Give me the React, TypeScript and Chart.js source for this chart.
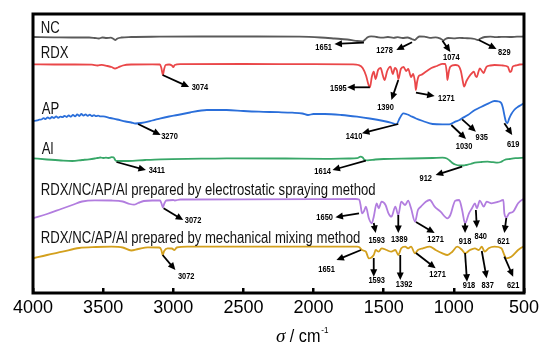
import React, { useEffect, useRef } from "react";
import { Chart, registerables } from "chart.js";

Chart.register(...registerables);

type P = [number, number];

// Wavenumber (cm^-1) vs. transmittance (arbitrary units, curves stacked with offsets)
const NC: P[] = [
  [4000, 258], [3850, 257.7], [3700, 257.5], [3600, 257.5], [3560, 257], [3531, 256.5], [3505, 257.5],
  [3475, 257], [3445, 257.3], [3425, 256], [3412, 255], [3398, 256.5], [3370, 257.5], [3300, 258],
  [3100, 258.3], [2800, 258.5], [2400, 258.5], [2100, 258.3], [1950, 257.5], [1850, 256.5], [1760, 255.5],
  [1700, 254.2], [1651, 253.5], [1632, 255.5], [1615, 257.8], [1590, 258.7], [1550, 258], [1510, 257.3],
  [1470, 258], [1430, 257.2], [1400, 257.8], [1365, 257], [1330, 257.5], [1300, 256], [1278, 255],
  [1262, 257], [1245, 258.5], [1210, 258.3], [1170, 257.2], [1130, 257.7], [1100, 256.7], [1085, 255.5],
  [1074, 254.5], [1060, 256], [1040, 257], [1000, 256.7], [960, 257.2], [920, 256.8], [880, 256.7],
  [850, 256], [829, 255], [810, 256.5], [780, 258], [740, 258.3], [700, 257.8], [660, 258.2], [600, 258],
  [550, 258.3], [500, 258.5],
];

const RDX: P[] = [
  [4000, 230.7], [3850, 230.5], [3700, 230.5], [3580, 230.3], [3540, 229.5], [3510, 230.2], [3470, 229],
  [3440, 228], [3415, 226.5], [3395, 227.5], [3360, 229.5], [3300, 230.5], [3150, 230.7], [3095, 230.5],
  [3085, 227], [3074, 220], [3065, 226], [3055, 230], [3030, 230.5], [3010, 229.5], [3000, 228],
  [2990, 230], [2950, 230.8], [2500, 231], [2000, 230.8], [1720, 230.7], [1680, 230], [1650, 227],
  [1625, 219], [1610, 211], [1598, 207.7], [1585, 218], [1571, 223.3], [1558, 216], [1540, 225],
  [1522, 227], [1505, 219], [1494, 215], [1475, 224], [1452, 228.3], [1435, 221], [1420, 227],
  [1405, 224], [1395, 216], [1378, 226], [1358, 228], [1340, 224], [1325, 226], [1305, 218], [1290, 221],
  [1276, 212], [1271, 205], [1262, 213], [1250, 219], [1235, 220], [1200, 223.3], [1160, 227],
  [1120, 229], [1080, 231.2], [1062, 231], [1050, 222], [1046, 215], [1035, 224], [1025, 228.3],
  [990, 230], [970, 229.5], [950, 224], [935, 213], [927, 208.3], [910, 214], [892, 218.3], [870, 222],
  [857, 223.3], [845, 219], [836, 218], [825, 223], [815, 226.7], [800, 224], [787, 222], [775, 226],
  [766, 228.3], [740, 229.5], [710, 230], [650, 229.5], [615, 228.3], [600, 223], [590, 224],
  [580, 228.5], [560, 229.5], [530, 230.5], [500, 230.7],
];

const AP: P[] = [
  [4000, 174], [3970, 174.6], [3955, 175.3], [3940, 175.5], [3925, 176.8], [3910, 176], [3895, 177.6],
  [3880, 176.4], [3865, 178], [3850, 177], [3835, 178.6], [3820, 177.2], [3805, 178.4], [3790, 177.8],
  [3775, 179.2], [3760, 178], [3745, 179.6], [3730, 178.3], [3715, 180.2], [3700, 178.6], [3685, 180.6],
  [3670, 179], [3655, 181], [3640, 179.4], [3625, 180.6], [3610, 179.2], [3595, 180.3], [3580, 179],
  [3565, 179.8], [3550, 178.8], [3535, 179.4], [3520, 178.6], [3500, 178.6],
  [3450, 177], [3400, 175.5], [3340, 173.5], [3300, 172.5], [3270, 171.5], [3230, 172], [3150, 174.5],
  [3090, 176.7], [3030, 178.5], [2970, 180], [2880, 182.5], [2800, 184.5], [2760, 185], [2620, 185],
  [2500, 184], [2390, 183.3], [2250, 182.8], [2152, 182.3], [2080, 181.5], [2040, 180], [2000, 181],
  [1920, 181], [1800, 180], [1690, 178.3], [1600, 176.5], [1501, 174], [1440, 172], [1410, 170.7],
  [1385, 177], [1361, 181.7], [1330, 180.5], [1312, 179.3], [1270, 176.5], [1221, 174], [1151, 171],
  [1081, 170.7], [1032, 170.7], [990, 173.3], [960, 175], [941, 176.7], [900, 180], [850, 185],
  [800, 188.5], [752, 191.7], [710, 194], [680, 193.5], [661, 191.7], [650, 187], [640, 180],
  [630, 174], [619, 171.7], [605, 176.7], [590, 181], [570, 185], [545, 188], [521, 190], [500, 191.7],
];

const AL: P[] = [
  [4000, 136.7], [3900, 135.5], [3800, 134.5], [3720, 134], [3650, 135], [3600, 135.7], [3560, 136.5],
  [3540, 137], [3520, 137.5], [3500, 137], [3480, 137.3], [3460, 137], [3440, 137.8], [3425, 137.7],
  [3418, 136], [3411, 134.3], [3380, 134], [3320, 134], [3200, 135], [3090, 135.7], [2800, 136.3],
  [2620, 136.7], [2200, 136.5], [1920, 136.2], [1750, 136.5], [1690, 136.8], [1665, 138.3], [1650, 137.5],
  [1635, 135], [1614, 134.7], [1560, 135.5], [1500, 136], [1300, 136.5], [1150, 137], [1081, 137.3],
  [1050, 136.5], [1030, 134.5], [1010, 132], [990, 130.5], [960, 129.5], [930, 129.5], [912, 130],
  [880, 131], [850, 132.3], [800, 133], [760, 133.3], [720, 132.8], [690, 132.3], [665, 133], [640, 135],
  [600, 136], [560, 136.8], [500, 137.3],
];

const ES: P[] = [
  [4000, 76.7], [3900, 81], [3800, 86], [3720, 90], [3650, 93.5], [3560, 94.7], [3440, 94.5], [3360, 93.5],
  [3310, 91], [3280, 90.3], [3250, 92], [3210, 94], [3150, 94.5], [3095, 94.5], [3085, 92], [3074, 87.7],
  [3064, 91.5], [3050, 94.5], [3000, 95], [2990, 94.5], [2950, 95.5], [2500, 95.7], [2000, 95.8],
  [1700, 96], [1675, 95.5], [1665, 90], [1655, 81.7], [1640, 84], [1627, 88.3], [1606, 76.7], [1585, 71.7],
  [1571, 78.3], [1550, 91.7], [1536, 86.7], [1515, 93.3], [1487, 90], [1466, 81.7], [1445, 78.3],
  [1417, 88.3], [1396, 80], [1375, 93.3], [1347, 90], [1326, 94.3], [1305, 86.7], [1277, 73.3],
  [1256, 85], [1235, 88.3], [1200, 93.3], [1172, 95], [1137, 88.3], [1095, 83.3], [1046, 76.7],
  [1025, 80], [990, 94.3], [962, 95], [941, 85], [920, 71.7], [892, 81.7], [871, 86.7], [850, 91.7],
  [836, 86.7], [815, 94.3], [787, 88.3], [766, 93.3], [731, 91.7], [682, 93.3], [647, 95], [640, 81.7],
  [626, 77.7], [605, 81.7], [577, 83.3], [542, 91.7], [507, 95.7], [500, 96],
];

const MM: P[] = [
  [4000, 36.7], [3900, 40], [3790, 43.3], [3671, 47], [3550, 48], [3440, 48.3], [3360, 47.5], [3300, 44.5],
  [3250, 46], [3181, 47.7], [3100, 47.5], [3085, 45], [3076, 40], [3065, 44], [3041, 46.7], [3010, 46.5],
  [2992, 45], [2975, 47.5], [2900, 48.3], [2500, 48.3], [2000, 48.3], [1690, 48.3], [1676, 48],
  [1655, 45], [1627, 43.3], [1606, 36.7], [1593, 37], [1571, 40], [1557, 45], [1536, 43.3], [1515, 46.7],
  [1480, 45], [1445, 43.3], [1417, 45], [1396, 40], [1375, 46.7], [1347, 48.3], [1326, 46.7], [1305, 48.3],
  [1277, 41.7], [1256, 45], [1221, 46.7], [1172, 48.3], [1130, 45], [1081, 41.7], [1046, 40], [1011, 43.3],
  [976, 48.3], [941, 45], [920, 41.7], [885, 45], [850, 46.7], [822, 45], [801, 48.3], [780, 43.3],
  [752, 46.7], [710, 48.3], [661, 46.7], [640, 40], [626, 36.7], [591, 38.3], [542, 45], [507, 48.3],
  [500, 48.5],
];

const SERIES_DATA: P[][] = [NC, RDX, AP, AL, ES, MM];
const SERIES_NAMES = [
  "NC",
  "RDX",
  "AP",
  "Al",
  "RDX/NC/AP/Al prepared by electrostatic spraying method",
  "RDX/NC/AP/Al prepared by mechanical mixing method",
];
const SERIES_COLORS = ["#5a5a5a", "#ea4749", "#2b6fda", "#38a768", "#b27ddf", "#d3a01d"];

// Curve name anchors: [wavenumber, transmittance] of the text's left baseline
const NAME_POS: P[] = [
  [3944, 261.7], [3944, 236.7], [3937, 180.7], [3937, 141], [3944, 100], [3944, 51.7],
];

// Peak annotations: label, arrow tail (on curve), arrow head, label centre
type Ann = [string, number, number, number, number, number, number];
const PEAKS: Ann[] = [
  ["1651", 1641, 252.3, 1851, 251, 1928, 247],
  ["1278", 1298, 252.7, 1410, 245, 1494, 244],
  ["1074", 1081, 254.3, 1025, 243, 1018, 237.7],
  ["829", 822, 255, 696, 246, 640, 242.3],
  ["3074", 3076, 220, 2887, 208, 2810, 207.7],
  ["1595", 1599, 207.7, 1760, 207.7, 1823, 206.7],
  ["1390", 1396, 215, 1445, 195, 1487, 187.7],
  ["1271", 1270, 202.3, 1137, 199, 1053, 196],
  ["3270", 3251, 171, 3090, 160, 3027, 158.3],
  ["1410", 1396, 171, 1655, 161.7, 1711, 158.3],
  ["1030", 1018, 170, 913, 156, 927, 148.3],
  ["935", 941, 175.7, 843, 163.3, 801, 157.3],
  ["619", 640, 171.7, 584, 160, 577, 150.7],
  ["3411", 3405, 133, 3195, 125, 3118, 124],
  ["1614", 1627, 134.3, 1865, 125, 1935, 123.3],
  ["912", 941, 128.3, 1130, 120, 1200, 116.7],
  ["3072", 3069, 86.7, 2929, 75, 2859, 74.3],
  ["1650", 1676, 81.7, 1844, 77.7, 1921, 77.7],
  ["1593", 1571, 72, 1557, 62, 1550, 54],
  ["1389", 1396, 80, 1396, 62, 1389, 55],
  ["1271", 1270, 73, 1137, 62, 1130, 55],
  ["918", 920, 71.7, 920, 62, 920, 53.3],
  ["840", 843, 85, 836, 67, 808, 58.3],
  ["621", 626, 77, 640, 62, 647, 53.3],
  ["3072", 3076, 40, 2985, 25, 2908, 18.3],
  ["1651", 1662, 45, 1837, 35, 1907, 25.7],
  ["1593", 1571, 37, 1571, 18.3, 1550, 14],
  ["1392", 1382, 40, 1382, 15, 1354, 10],
  ["1271", 1270, 42, 1130, 26.7, 1116, 20],
  ["918", 920, 42, 906, 13.3, 892, 9],
  ["837", 801, 44, 766, 16.7, 759, 9],
  ["621", 640, 38.3, 577, 18.3, 577, 9],
];

const X_MIN = 500;
const X_MAX = 4000;
const X_STEP = 500;

function stretchText(
  ctx: CanvasRenderingContext2D, s: string, px: number, py: number,
  font: string, sx: number, align: CanvasTextAlign, baseline: CanvasTextBaseline
) {
  ctx.save();
  ctx.translate(px, py);
  ctx.scale(sx, 1);
  ctx.font = font;
  ctx.textAlign = align;
  ctx.textBaseline = baseline;
  ctx.fillText(s, 0, 0);
  ctx.restore();
}

function arrow(ctx: CanvasRenderingContext2D, x1: number, y1: number, x2: number, y2: number) {
  const ang = Math.atan2(y2 - y1, x2 - x1);
  const hl = 7.5, hw = 3.5;
  const c = Math.cos(ang), s = Math.sin(ang);
  const bx = x2 - hl * c, by = y2 - hl * s;
  ctx.lineWidth = 1.8;
  ctx.beginPath();
  ctx.moveTo(x1, y1);
  ctx.lineTo(bx + c, by + s);
  ctx.stroke();
  ctx.beginPath();
  ctx.moveTo(x2, y2);
  ctx.lineTo(bx - hw * s, by + hw * c);
  ctx.lineTo(bx + hw * s, by - hw * c);
  ctx.closePath();
  ctx.fill();
}

const annotatePlugin = {
  id: "ftirAnnotate",
  afterDatasetsDraw(chart: any) {
    const { ctx, scales } = chart;
    const xs = scales.x, ys = scales.y;
    ctx.save();
    ctx.strokeStyle = "#000";
    ctx.fillStyle = "#000";
    ctx.lineCap = "butt";
    for (const [lab, tw, tt, hw, ht, lw, lt] of PEAKS) {
      arrow(ctx, xs.getPixelForValue(tw), ys.getPixelForValue(tt), xs.getPixelForValue(hw), ys.getPixelForValue(ht));
      stretchText(ctx, lab, xs.getPixelForValue(lw), ys.getPixelForValue(lt),
        'bold 9px "Liberation Sans", Arial, sans-serif', 0.83, "center", "middle");
    }
    ctx.fillStyle = "#111";
    SERIES_NAMES.forEach((name, i) => {
      const [w, t] = NAME_POS[i];
      stretchText(ctx, name, xs.getPixelForValue(w), ys.getPixelForValue(t),
        '16px "Liberation Sans", Arial, sans-serif', 0.82, "left", "alphabetic");
    });
    ctx.restore();
  },
  afterDraw(chart: any) {
    const { ctx, chartArea } = chart;
    ctx.save();
    ctx.strokeStyle = "#000";
    ctx.lineWidth = 3;
    ctx.strokeRect(chartArea.left, chartArea.top, chartArea.right - chartArea.left, chartArea.bottom - chartArea.top);
    // axis title: σ / cm-1
    ctx.fillStyle = "#000";
    let x = chartArea.left + 243;
    const base = 341.5;
    ctx.font = 'italic 19px "Liberation Serif", "Times New Roman", serif';
    ctx.textBaseline = "alphabetic";
    ctx.textAlign = "left";
    ctx.fillText("σ", x, base);
    x += ctx.measureText("σ").width;
    ctx.save();
    ctx.translate(x, base);
    ctx.scale(0.9, 1);
    ctx.font = '18px "Liberation Sans", Arial, sans-serif';
    const main = " / cm";
    ctx.fillText(main, 0, 0);
    const mw = ctx.measureText(main).width;
    ctx.font = '9px "Liberation Sans", Arial, sans-serif';
    ctx.fillText("-1", mw + 1, -9);
    ctx.restore();
    ctx.restore();
  },
};

export default function App() {
  const ref = useRef<HTMLCanvasElement | null>(null);
  useEffect(() => {
    if (!ref.current) return;
    const chart = new Chart(ref.current, {
      type: "line",
      data: {
        datasets: SERIES_DATA.map((d, i) => ({
          label: SERIES_NAMES[i],
          data: d.map(([x, y]) => ({ x, y })),
          borderColor: SERIES_COLORS[i],
          backgroundColor: SERIES_COLORS[i],
          borderWidth: 1.8,
          pointRadius: 0,
          cubicInterpolationMode: "monotone" as const,
          fill: false,
        })),
      },
      options: {
        responsive: false,
        animation: false,
        events: [],
        layout: { padding: { left: 33, right: 15, top: 14, bottom: 0 } },
        plugins: { legend: { display: false }, tooltip: { enabled: false }, title: { display: false } },
        scales: {
          x: {
            type: "linear",
            reverse: true,
            min: X_MIN,
            max: X_MAX,
            ticks: {
              stepSize: X_STEP,
              autoSkip: false,
              maxRotation: 0,
              padding: 9,
              color: "#000",
              font: { family: '"Liberation Sans", Arial, sans-serif', size: 18 },
              callback: (v: any) => String(v),
            },
            grid: {
              display: true,
              drawOnChartArea: false,
              drawTicks: true,
              tickLength: -5,
              lineWidth: 2.5,
              color: "#000",
            },
            border: { display: false },
            afterFit: (s: any) => { s.height = 50; },
          },
          y: { type: "linear", display: false, min: 2, max: 281 },
        },
      },
      plugins: [annotatePlugin],
    });
    return () => chart.destroy();
  }, []);
  return (
    <div style={{ position: "absolute", left: 0, top: 0, width: 548, height: 343, background: "#fff" }}>
      <canvas ref={ref} width={548} height={343} />
    </div>
  );
}
